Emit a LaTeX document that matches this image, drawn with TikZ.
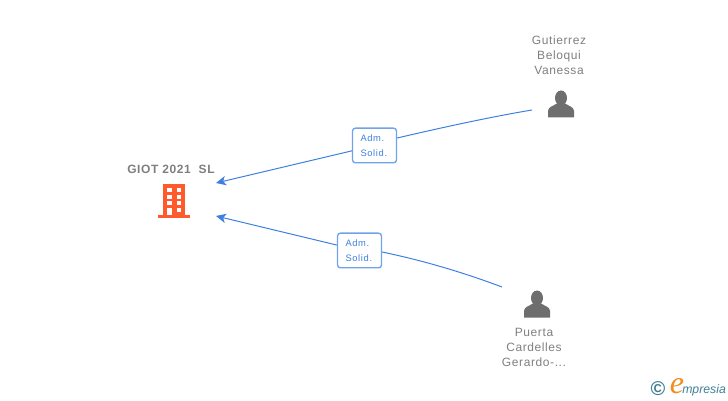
\documentclass[tikz,border=0pt]{standalone}
\usepackage{fontspec}
\setmainfont{Liberation Sans}
\newfontfamily\logoserif{Liberation Serif}
\usetikzlibrary{calc}
\usetikzlibrary{arrows.meta}
\definecolor{linkblue}{HTML}{3F7FE0}
\definecolor{boxblue}{HTML}{6FA3EA}
\definecolor{txtgray}{HTML}{7F7F7F}
\definecolor{icongray}{HTML}{6E6E6E}
\definecolor{bldorange}{HTML}{FF5A2C}
\definecolor{logoteal}{HTML}{3F7F96}
\definecolor{logoorange}{HTML}{F28C1E}
\tikzset{
    whotext/.style={text=txtgray,font=\fontsize{9}{11.25}\selectfont\addfontfeature{LetterSpace=5},align=center},
    badge/.style={draw=boxblue,fill=white,rounded corners=2.2pt,line width=1pt,text=linkblue,
        minimum width=33pt,minimum height=26pt,inner sep=0pt,align=left,text width=21pt,
        font=\fontsize{7}{11.25}\selectfont\addfontfeature{LetterSpace=7}},
    link/.style={draw=linkblue,line width=0.75pt},
    linkarrow/.style={link,-{Stealth[length=7.5pt,width=7pt,inset=2pt]}},
    pics/personicon/.style={code={
        \fill [icongray] (-13,-13.5) -- (-13,-7) .. controls (-13,-3) and (-8,-2) .. (-3,1)
            -- (3,1) .. controls (8,-2) and (13,-3) .. (13,-7) -- (13,-13.5) -- cycle;
        \fill [icongray] (0,6) ellipse (6 and 7.5);
    }}
}
\begin{document}
\begin{tikzpicture}[x=0.75pt,y=0.75pt]
    \useasboundingbox (0,0) rectangle (728,400);

    % company
    \node [whotext,font=\fontsize{9}{11.25}\selectfont\bfseries\addfontfeature{LetterSpace=5}] (giot) at (171,231) {GIOT 2021\ \ SL};
    \fill [bldorange] (163,184) rectangle (185,216);
    \fill [bldorange] (158,182) rectangle (190,185);
    \foreach \y in {208,201,195,188} {
        \fill [white] (167,400-\y) rectangle (171.5,396-\y);
        \fill [white] (176.5,400-\y) rectangle (181,396-\y);
    }
    \fill [white] (167,185) rectangle (171.5,192);

    % persons
    \pic at (561,296) {personicon};
    \pic at (537,96) {personicon};
    \node [whotext] (gutierrez) at (559,345) {Gutierrez\\Beloqui\\Vanessa};
    \node [whotext] (puerta) at (534,53) {Puerta\\Cardelles\\Gerardo-...};

    % connectors
    \coordinate (A0) at (216,217);
    \coordinate (A1) at (532,290);
    \coordinate (B0) at (216,184);
    \coordinate (B1) at (502,113);
    \node [badge] (adm1) at (374.5,254.5) {Adm.\\Solid.};
    \node [badge] (adm2) at (359.5,149.5) {Adm.\\Solid.};

    \draw [linkarrow] (adm1) -- (A0);
    \draw [link] (adm1.east) ++(0,7.5) .. controls (440,272) and (490,283) .. (A1);
    \draw [linkarrow] (adm2) -- (B0);
    \draw [link] (adm2.east) ++(0,-1.5) .. controls (430,138) and (470,125) .. (B1);

    % logo
    \node [text=logoteal,font=\fontsize{15}{15}\selectfont\bfseries] (copy) at (658,11) {©};
    \node [text=logoorange,font=\fontsize{24}{24}\selectfont\logoserif\itshape] (elogo) at (677,14) {e};
    \node [text=logoteal,anchor=west,inner sep=0pt,font=\fontsize{9.2}{9.2}\selectfont\itshape] (mpresia) at (682,10) {mpresia};
\end{tikzpicture}
\end{document}
